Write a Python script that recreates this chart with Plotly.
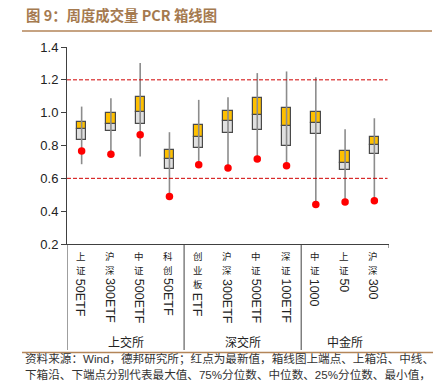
import re
import plotly.graph_objects as go

# ---------------- data ----------------
groups = ["上交所", "上交所", "上交所", "上交所",
          "深交所", "深交所", "深交所", "深交所",
          "中金所", "中金所", "中金所"]
labels = ["上证50ETF", "沪深300ETF", "中证500ETF", "科创50ETF",
          "创业板ETF", "沪深300ETF", "中证500ETF", "深证100ETF",
          "中证1000", "上证50", "沪深300"]
max_vals = [1.037, 1.088, 1.302, 0.881, 1.078, 1.094, 1.241, 1.251, 1.216, 0.899, 0.966]
q3_vals = [0.942, 0.995, 1.094, 0.771, 0.926, 1.011, 1.088, 1.031, 1.003, 0.765, 0.852]
median_vals = [0.901, 0.930, 1.003, 0.718, 0.854, 0.952, 0.985, 0.921, 0.936, 0.692, 0.802]
q1_vals = [0.834, 0.889, 0.934, 0.655, 0.787, 0.875, 0.895, 0.800, 0.871, 0.649, 0.747]
min_vals = [0.686, 0.747, 0.733, 0.489, 0.682, 0.663, 0.718, 0.676, 0.440, 0.456, 0.464]
latest_vals = [0.767, 0.747, 0.865, 0.489, 0.682, 0.663, 0.718, 0.676, 0.440, 0.456, 0.464]
ref_lines = [1.2, 0.6]
y_ticks = [0.2, 0.4, 0.6, 0.8, 1.0, 1.2, 1.4]

title_text = "图 9：周度成交量 PCR 箱线图"
note_lines = ["资料来源：Wind，德邦研究所；红点为最新值，箱线图上端点、上箱沿、中线、",
              "下箱沿、下端点分别代表最大值、75%分位数、中位数、25%分位数、最小值，"]

# ---------------- layout geometry ----------------
W_FIG, H_FIG = 437, 386
L, R, T, B = 67, 48, 47, 142
PW = W_FIG - L - R
PH = H_FIG - T - B
AX_Y = T + PH  # pixel y of x-axis


def pxx(px):
    return (px - L) / PW


def pxy(py):
    return (AX_Y - py) / PH


n = len(labels)
xs = list(range(n))

FONT = "Liberation Sans, Arial, Noto Sans CJK SC, sans-serif"
CJK_FONT = "Noto Sans CJK SC, sans-serif"

fig = go.Figure()

# whiskers
wx, wy = [], []
for i in xs:
    wx += [i, i, None]
    wy += [min_vals[i], max_vals[i], None]
fig.add_trace(go.Scatter(x=wx, y=wy, mode="lines",
                         line=dict(color="#8c8c8c", width=1.6),
                         hoverinfo="skip", showlegend=False))

# lower half of box (q1 -> median)
fig.add_trace(go.Bar(x=xs, base=q1_vals,
                     y=[m - q for m, q in zip(median_vals, q1_vals)],
                     width=0.32, marker=dict(color="#e0e0e0",
                                             line=dict(color="#4a4a4a", width=1.2)),
                     showlegend=False))
# upper half of box (median -> q3)
fig.add_trace(go.Bar(x=xs, base=median_vals,
                     y=[q - m for q, m in zip(q3_vals, median_vals)],
                     width=0.32, marker=dict(color="#ffc000",
                                             line=dict(color="#4a4a4a", width=1.2)),
                     showlegend=False))
# latest values
fig.add_trace(go.Scatter(x=xs, y=latest_vals, mode="markers",
                         marker=dict(color="#ff0000", size=7.5),
                         showlegend=False))

shapes = []
# red dashed reference lines
for v in ref_lines:
    shapes.append(dict(type="line", xref="x", yref="y", x0=-0.5, x1=10.45,
                       y0=v, y1=v, line=dict(color="#d00000", width=1, dash="4px,2px")))

# group dividers below axis
LINE_C = "#404040"
bottom = pxy(350)
shapes.append(dict(type="line", xref="x", yref="paper", x0=-0.5, x1=-0.5,
                   y0=0, y1=bottom, line=dict(color=LINE_C, width=1)))
prev = groups[0]
for i, g in enumerate(groups):
    if g != prev:
        shapes.append(dict(type="line", xref="x", yref="paper", x0=i - 0.5, x1=i - 0.5,
                           y0=0, y1=bottom, line=dict(color=LINE_C, width=1)))
        prev = g
shapes.append(dict(type="line", xref="x", yref="paper", x0=n - 0.5, x1=n - 0.5,
                   y0=0, y1=pxy(AX_Y + 4), line=dict(color=LINE_C, width=1)))

# title rule and footer rule
BROWN = "#b38558"
shapes.append(dict(type="line", xref="paper", yref="paper", x0=pxx(22), x1=pxx(432),
                   y0=pxy(31), y1=pxy(31), line=dict(color=BROWN, width=1.5)))
shapes.append(dict(type="line", xref="paper", yref="paper", x0=pxx(22), x1=pxx(433),
                   y0=pxy(352.5), y1=pxy(352.5), line=dict(color=BROWN, width=1.5)))

annotations = []
# category labels: CJK chars upright stacked, latin run rotated below
CJK_TOP = 248
CJK_SIZE = 9.5
STEP = 14
for i, lab in enumerate(labels):
    m = re.match(r"([^\x00-\x7f]+)(.*)", lab)
    cjk, latin = m.group(1), m.group(2)
    for k, ch in enumerate(cjk):
        annotations.append(dict(x=i, xref="x", y=pxy(CJK_TOP + k * STEP), yref="paper",
                                text=ch, showarrow=False,
                                xanchor="center", yanchor="top", xshift=-1,
                                font=dict(family=CJK_FONT, size=CJK_SIZE, color="#222"),
                                borderpad=0))
    if latin:
        annotations.append(dict(x=i, xref="x", y=pxy(CJK_TOP + 1.5 + len(cjk) * STEP),
                                yref="paper", text=latin, textangle=90, showarrow=False,
                                xanchor="center", yanchor="top", xshift=-1,
                                font=dict(family=FONT, size=12.5, color="#222"), borderpad=0))

# group labels
seen = []
for g in groups:
    if g not in seen:
        seen.append(g)
for g in seen:
    idx = [i for i, gg in enumerate(groups) if gg == g]
    cx = (idx[0] + idx[-1]) / 2
    annotations.append(dict(x=cx, xref="x", y=pxy(341), yref="paper", text=g,
                            showarrow=False, xanchor="center", yanchor="middle",
                            font=dict(family=CJK_FONT, size=12, color="#222")))

# title
annotations.append(dict(x=pxx(24), xref="paper", y=pxy(15), yref="paper",
                        text="<b>" + title_text + "</b>", showarrow=False,
                        xanchor="left", yanchor="middle",
                        font=dict(family=CJK_FONT, size=14.4, color="#a57a4f")))
# footer notes
for k, line in enumerate(note_lines):
    annotations.append(dict(x=pxx(23), xref="paper", y=pxy(358 + k * 16), yref="paper",
                            text=line, showarrow=False, xanchor="left", yanchor="middle",
                            font=dict(family="Liberation Sans, Noto Sans CJK SC, sans-serif",
                                      size=11.6, color="#333")))

fig.update_layout(
    width=W_FIG, height=H_FIG,
    margin=dict(l=L, r=R, t=T, b=B, pad=0),
    paper_bgcolor="white", plot_bgcolor="white",
    barmode="overlay", bargap=0,
    shapes=shapes, annotations=annotations,
    xaxis=dict(range=[-0.5, n - 0.5], showgrid=False, zeroline=False,
               showticklabels=False, ticks="", showline=True,
               linecolor=LINE_C, linewidth=1, fixedrange=True),
    yaxis=dict(range=[0.2, 1.4], tickvals=y_ticks, tickformat=".1f",
               showgrid=False, zeroline=False, showline=True, linecolor=LINE_C,
               linewidth=1, ticks="outside", ticklen=5, tickcolor=LINE_C,
               tickfont=dict(family=FONT, size=13, color="#222"), fixedrange=True),
    font=dict(family=FONT),
)

fig.write_html("out.html", config={"displayModeBar": False},
               post_script="document.body.style.margin='0';document.body.style.padding='0';")
